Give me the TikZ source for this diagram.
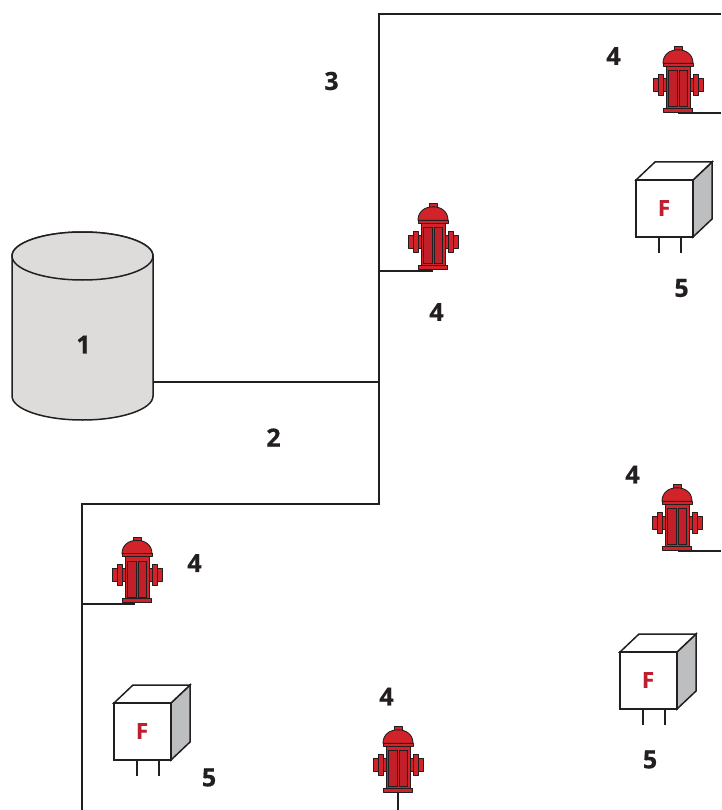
\documentclass[tikz,border=0pt]{standalone}
\usepackage{fontspec}
\setmainfont{Open Sans}[BoldFeatures={FakeBold=0.6}]
\definecolor{ink}{HTML}{231F20}
\definecolor{tankfill}{HTML}{DDDCDB}
\definecolor{hred}{HTML}{D2232A}
\definecolor{hdark}{HTML}{C1202B}
\definecolor{fred}{HTML}{BE1E2D}
\definecolor{cubeside}{HTML}{BCBEC0}
\tikzset{
  pipe/.style={draw=ink,line width=1.5pt},
  lbl/.style={font=\fontsize{25}{25}\selectfont\bfseries,text=ink,inner sep=0pt},
  flab/.style={font=\fontsize{22}{22}\selectfont\bfseries,text=fred,inner sep=0pt},
  hpart/.style={draw=ink,line width=0.9pt,fill=hred,line join=round},
  hpanel/.style={draw=ink,line width=0.6pt,fill=hdark},
  cubeline/.style={draw=ink,line width=1.5pt,line join=miter},
  pics/hydrant/.style={code={
    % flanges
    \path[hpart] (-25,32) rectangle (-20,45);
    \path[hpart] (25,32) rectangle (20,45);
    \path[hpart] (-20,28) rectangle (-15,49);
    \path[hpart] (20,28) rectangle (15,49);
    \path[hpart] (-15,32) rectangle (-11,45);
    \path[hpart] (15,32) rectangle (11,45);
    % body
    \path[hpart] (-12,20) rectangle (12,62);
    \path[hpanel] (-9.5,24) rectangle (-0.8,60);
    \path[hpanel] (0.8,24) rectangle (9.5,60);
    % base
    \path[hpart] (-14.5,62) rectangle (14.5,66);
    % nub
    \path[hpart] (-4,0.5) rectangle (4,5);
    % dome
    \path[hpart] (-15,17) .. controls (-15,8) and (-8,3.5) .. (0,3.5) .. controls (8,3.5) and (15,8) .. (15,17) -- cycle;
    \path[hpart] (-15,17) rectangle (15,20);
  }},
  pics/sensor/.style={code={
    \path[draw=ink,line width=1.5pt] (23,57) -- (23,73) (45,57) -- (45,73);
    \path[cubeline,fill=cubeside] (57,0) -- (76,-18) -- (76,39) -- (57,57) -- cycle;
    \path[cubeline,fill=white] (0,0) -- (19,-18) -- (76,-18) -- (57,0) -- cycle;
    \path[cubeline,fill=white] (0,0) rectangle (57,57);
    \node[flab] at (28,28) {F};
  }}
}
\begin{document}
\begin{tikzpicture}[x=1pt,y=-1pt]
\useasboundingbox (0,0) rectangle (721,810);
% junctions and free ends
\coordinate (topstart) at (721,14);
\coordinate (topcorner) at (379,14);
\coordinate (tee1) at (379,271);
\coordinate (tee2) at (379,382);
\coordinate (midcorner) at (379,504);
\coordinate (leftcorner) at (82,504);
\coordinate (tee3) at (82,604);
\coordinate (leftend) at (82,810);
\coordinate (h1) at (433,271);
\coordinate (h2) at (678,113);
\coordinate (h2end) at (721,113);
\coordinate (h3) at (135,604);
\coordinate (h4) at (678,551);
\coordinate (h4end) at (721,551);
\coordinate (h5) at (398,793);
\coordinate (h5end) at (398,810);
% pipes
\draw[pipe] (topstart) -- (topcorner) -- (midcorner) -- (leftcorner) -- (leftend);
\draw[pipe] (tee1) -- (h1);
\draw[pipe] (tee3) -- (h3);
\draw[pipe] (h2) -- (h2end);
\draw[pipe] (h4) -- (h4end);
\draw[pipe] (h5) -- (h5end);
% tank
\path[draw=ink,line width=1.5pt,fill=tankfill] (12,256) -- (12,396) arc[start angle=180,end angle=360,x radius=70.5,y radius=-24] -- (153,256) arc[start angle=0,end angle=180,x radius=70.5,y radius=-24] -- cycle;
\path[draw=ink,line width=1.5pt,fill=tankfill] (82.5,256) ellipse[x radius=70.5,y radius=24];
\coordinate (tankout) at (153,382);
\draw[pipe] (tankout) -- (tee2);
% hydrants
\pic at (433,203.3) {hydrant};
\pic at (678,46.3) {hydrant};
\pic at (137,536.8) {hydrant};
\pic at (677,484.3) {hydrant};
\pic at (398,726.3) {hydrant};
% sensors
\pic at (636,180) {sensor};
\pic at (114,703) {sensor};
\pic at (620,652) {sensor};
% labels
\node[lbl] (n1) at (83.5,344.5) {1};
\node[lbl] (n2) at (273.5,437.5) {2};
\node[lbl] (n3) at (331.5,81) {3};
\node[lbl] (a) at (613.5,56) {4};
\node[lbl] (b) at (436.5,312) {4};
\node[lbl] (c) at (632.5,474.5) {4};
\node[lbl] (d) at (194.5,563) {4};
\node[lbl] (e) at (386.5,696.5) {4};
\node[lbl] (f) at (681.5,288) {5};
\node[lbl] (g) at (209,777.5) {5};
\node[lbl] (k) at (650,759.5) {5};
\end{tikzpicture}
\end{document}
